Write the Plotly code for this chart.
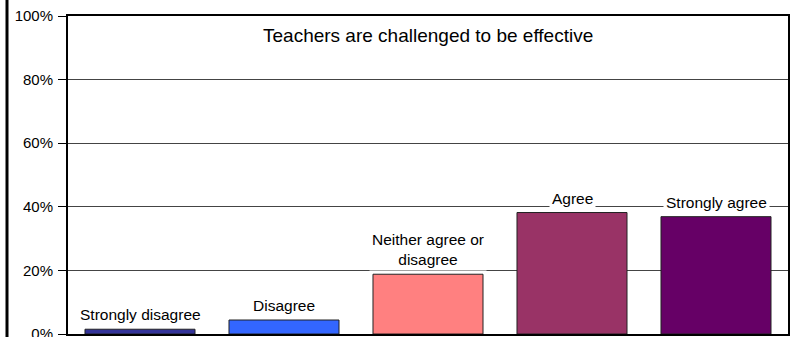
import plotly.graph_objects as go

# Survey responses: "Teachers are challenged to be effective"
categories = ["Strongly disagree", "Disagree", "Neither agree or disagree", "Agree", "Strongly agree"]
bar_labels = ["Strongly disagree", "Disagree", "Neither agree or<br>disagree", "Agree", "Strongly agree"]
percent_values = [1.5, 4.4, 18.8, 38.2, 36.9]
bar_colors = ["#333399", "#3366FF", "#FF8080", "#993366", "#660066"]
tick_values = [0, 20, 40, 60, 80, 100]
tick_labels = ["0%", "20%", "40%", "60%", "80%", "100%"]
chart_title = "Teachers are challenged to be effective"

FONT = "Arial, Liberation Sans, sans-serif"

fig = go.Figure()
fig.add_trace(go.Bar(
    x=categories,
    y=percent_values,
    marker=dict(color=bar_colors, line=dict(color="#222222", width=1)),
    hoverinfo="skip",
))

# Category labels sitting just above each bar, on a white box
for cat, lab, val in zip(categories, bar_labels, percent_values):
    fig.add_annotation(
        x=cat, y=val, text=lab, showarrow=False,
        xanchor="center", yanchor="bottom", yshift=3,
        bgcolor="white", borderpad=2,
        font=dict(family=FONT, size=15.5, color="black"),
    )

# Title placed inside the plot area
fig.add_annotation(
    x=0.5, y=100, xref="paper", yref="y", text=chart_title,
    showarrow=False, xanchor="center", yanchor="top", yshift=-7,
    font=dict(family=FONT, size=19, color="black"),
)

# Outer frame line along the left edge of the chart
fig.add_shape(
    type="line", xref="paper", yref="paper",
    x0=-61 / 720, x1=-61 / 720, y0=-0.02, y1=1.06,
    line=dict(color="black", width=3),
)

fig.update_layout(
    width=797, height=337,
    margin=dict(l=68, r=9, t=16, b=3, autoexpand=False),
    paper_bgcolor="white", plot_bgcolor="white",
    showlegend=False, bargap=0.236,
    font=dict(family=FONT, size=15, color="black"),
)
fig.update_xaxes(
    range=[-0.5, 4.5], showticklabels=False, ticks="",
    showgrid=False, showline=True, linecolor="black", linewidth=2, mirror=True,
    zeroline=False, fixedrange=True, automargin=False,
)
fig.update_yaxes(
    range=[0, 100], tickvals=tick_values, ticktext=tick_labels,
    ticks="outside", ticklen=8, tickcolor="black", tickwidth=1,
    ticklabeloverflow="allow", ticklabelstandoff=2,
    showgrid=True, gridcolor="#444444", gridwidth=1,
    showline=True, linecolor="black", linewidth=2, mirror=True,
    zeroline=False, fixedrange=True, automargin=False,
    tickfont=dict(family=FONT, size=15, color="black"),
)

fig.write_html("out.html")
